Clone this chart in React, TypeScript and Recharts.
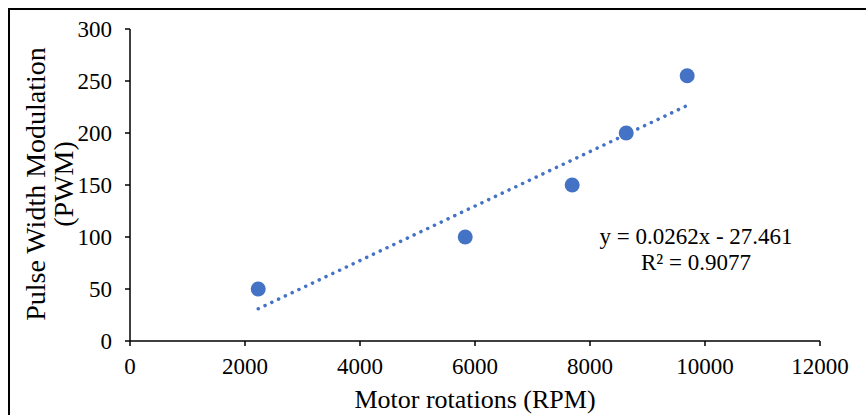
import React from "react";
import { ScatterChart, Scatter, XAxis, YAxis } from "recharts";

// measured points
const rpm = [2230, 5830, 7690, 8630, 9690];
const pwm = [50, 100, 150, 200, 255];

const xTicks = [0, 2000, 4000, 6000, 8000, 10000, 12000];
const yTicks = [0, 50, 100, 150, 200, 250, 300];

// linear trendline as printed on the chart
const slope = 0.0262;
const intercept = -27.461;
const r2 = 0.9077;

const BLUE = "#4472C4";
const FONT = "'Liberation Serif', 'Times New Roman', serif";

const points = rpm.map((x, i) => ({ x, y: pwm[i] }));
const xMin = Math.min(...rpm);
const xMax = Math.max(...rpm);
const trend = [xMin, xMax].map((x) => ({ x, y: slope * x + intercept }));

const tickStyle = { fill: "#000", fontSize: 23, fontFamily: FONT };

const Dot = (props: any) => <circle cx={props.cx} cy={props.cy} r={7.5} fill={BLUE} />;

export default function App() {
  return (
    <div style={{ position: "absolute", left: 8, top: 8, width: 858, height: 407, borderTop: "2px solid #000", borderLeft: "2px solid #000", fontFamily: FONT, background: "#fff" }}>
      <style>{`body{margin:0;overflow:hidden;background:#fff}`}</style>
      <ScatterChart width={856} height={405} margin={{ top: 19, right: 46, left: 60, bottom: 14 }}>
        <XAxis
          type="number"
          dataKey="x"
          domain={[0, 12000]}
          ticks={xTicks}
          tick={tickStyle}
          tickSize={5}
          tickMargin={12}
          height={60}
          axisLine={{ stroke: "#000", strokeWidth: 1.5 }}
          tickLine={{ stroke: "#000", strokeWidth: 1.5 }}
        />
        <YAxis
          type="number"
          dataKey="y"
          domain={[0, 300]}
          ticks={yTicks}
          tick={tickStyle}
          tickSize={5}
          tickMargin={13}
          width={60}
          axisLine={{ stroke: "#000", strokeWidth: 1.5 }}
          tickLine={{ stroke: "#000", strokeWidth: 1.5 }}
        />
        <Scatter
          data={trend}
          line={{ stroke: BLUE, strokeWidth: 3.5, strokeDasharray: "0.1 7.4", strokeLinecap: "round" }}
          shape={() => null}
          isAnimationActive={false}
        />
        <Scatter data={points} shape={Dot} isAnimationActive={false} />
      </ScatterChart>

      <div style={{ position: "absolute", left: 0, width: 54, top: 174, height: 0 }}>
        <div style={{ position: "absolute", left: 40, top: 0, transform: "translate(-50%,-50%) rotate(-90deg)", whiteSpace: "nowrap", fontSize: 28, lineHeight: "28px", textAlign: "center" }}>
          Pulse Width Modulation<br />(PWM)
        </div>
      </div>

      <div style={{ position: "absolute", left: 120, width: 690, top: 375, textAlign: "center", fontSize: 26, lineHeight: "30px" }}>
        Motor rotations (RPM)
      </div>

      <div style={{ position: "absolute", left: 586, width: 200, top: 214, textAlign: "center", fontSize: 23, lineHeight: "26px", whiteSpace: "nowrap" }}>
        y = {slope}x - {Math.abs(intercept)}<br />R² = {r2}
      </div>
    </div>
  );
}
